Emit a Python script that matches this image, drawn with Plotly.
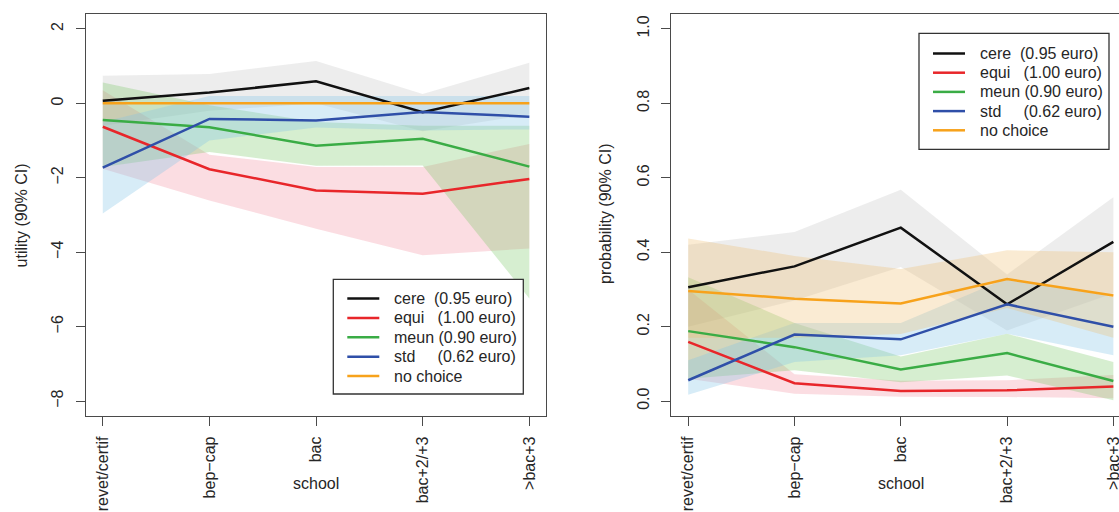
import plotly.graph_objects as go

# ---------------- data ----------------
categories = ["brevet/certif", "bep\u2212cap", "bac", "bac+2/+3", ">bac+3"]
series_names = ["cere", "equi", "meun", "std", "no choice"]
legend_labels = ["cere  (0.95 euro)", "equi   (1.00 euro)", "meun (0.90 euro)",
                 "std     (0.62 euro)", "no choice"]

# left panel: utility (90% CI)
util_cere = [0.07, 0.29, 0.59, -0.24, 0.41]
util_cere_lo = [-0.60, -0.20, 0.00, -0.75, -0.30]
util_cere_hi = [0.74, 0.79, 1.14, 0.25, 1.09]
util_equi = [-0.63, -1.77, -2.34, -2.43, -2.03]
util_equi_lo = [-1.76, -2.61, -3.37, -4.08, -3.90]
util_equi_hi = [0.35, -1.38, -1.71, -1.71, -1.09]
util_meun = [-0.45, -0.64, -1.14, -0.95, -1.70]
util_meun_lo = [-1.71, -1.31, -1.68, -1.67, -5.24]
util_meun_hi = [0.56, -0.05, -0.50, -0.60, -0.60]
util_std = [-1.73, -0.42, -0.46, -0.23, -0.36]
util_std_lo = [-2.96, -1.00, -0.65, -0.73, -0.70]
util_std_hi = [-0.50, 0.20, 0.20, 0.20, 0.20]
util_none = [0.0, 0.0, 0.0, 0.0, 0.0]

# right panel: probability (90% CI)
prob_cere = [0.306, 0.362, 0.466, 0.260, 0.428]
prob_cere_lo = [0.20, 0.27, 0.36, 0.19, 0.29]
prob_cere_hi = [0.42, 0.454, 0.568, 0.34, 0.548]
prob_equi = [0.159, 0.048, 0.027, 0.029, 0.039]
prob_equi_lo = [0.06, 0.020, 0.012, 0.011, 0.008]
prob_equi_hi = [0.30, 0.072, 0.055, 0.056, 0.070]
prob_meun = [0.188, 0.145, 0.085, 0.129, 0.054]
prob_meun_lo = [0.06, 0.083, 0.051, 0.069, 0.002]
prob_meun_hi = [0.333, 0.21, 0.12, 0.181, 0.105]
prob_std = [0.056, 0.179, 0.166, 0.260, 0.200]
prob_std_lo = [0.017, 0.105, 0.123, 0.181, 0.123]
prob_std_hi = [0.11, 0.21, 0.21, 0.33, 0.28]
prob_none = [0.296, 0.275, 0.262, 0.328, 0.284]
prob_none_lo = [0.17, 0.17, 0.18, 0.25, 0.17]
prob_none_hi = [0.437, 0.39, 0.355, 0.405, 0.40]

left_yticks = [-8, -6, -4, -2, 0, 2]
right_yticks = [0.0, 0.2, 0.4, 0.6, 0.8, 1.0]

# ---------------- styles ----------------
W, H = 1119, 512
FONT = "Liberation Sans, Arial, sans-serif"
TXT = "#262626"
AX = "#4a4a4a"
line_colors = ["#111111", "#e8262a", "#3aac45", "#2f4fa8", "#f7a21b"]
band_colors = ["rgba(185,185,185,0.25)", "rgba(240,120,140,0.25)",
               "rgba(120,200,100,0.30)", "rgba(130,195,230,0.32)",
               "rgba(240,190,110,0.30)"]

xpos = list(range(1, len(categories) + 1))

fig = go.Figure()


def add_band(lo, hi, color, xa, ya):
    fig.add_trace(go.Scatter(x=xpos + xpos[::-1], y=hi + lo[::-1], fill="toself",
                             fillcolor=color, mode="lines", line=dict(width=0),
                             hoverinfo="skip", showlegend=False, xaxis=xa, yaxis=ya))


def add_line(vals, color, name, xa, ya):
    fig.add_trace(go.Scatter(x=xpos, y=vals, mode="lines", name=name,
                             line=dict(color=color, width=2.5),
                             showlegend=False, xaxis=xa, yaxis=ya))


left_bands = [(util_cere_lo, util_cere_hi), (util_equi_lo, util_equi_hi),
              (util_meun_lo, util_meun_hi), (util_std_lo, util_std_hi)]
left_lines = [util_cere, util_equi, util_meun, util_std, util_none]
right_bands = [(prob_cere_lo, prob_cere_hi), (prob_equi_lo, prob_equi_hi),
               (prob_meun_lo, prob_meun_hi), (prob_std_lo, prob_std_hi),
               (prob_none_lo, prob_none_hi)]
right_lines = [prob_cere, prob_equi, prob_meun, prob_std, prob_none]

for i, (lo, hi) in enumerate(left_bands):
    add_band(lo, hi, band_colors[i], "x", "y")
for i, (lo, hi) in enumerate(right_bands):
    add_band(lo, hi, band_colors[i], "x2", "y2")
for i, v in enumerate(left_lines):
    add_line(v, line_colors[i], series_names[i], "x", "y")
for i, v in enumerate(right_lines):
    add_line(v, line_colors[i], series_names[i], "x2", "y2")

# ---------------- axes ----------------
ydom = [1 - 416 / H, 1 - 14 / H]
common_x = dict(tickmode="array", tickvals=xpos, ticktext=categories, tickangle=-90,
                ticks="outside", ticklen=9, tickwidth=1.3, tickcolor=AX,
                showline=True, linecolor=AX, linewidth=1.3, showgrid=False,
                zeroline=False, tickfont=dict(family=FONT, size=16, color=TXT),
                ticklabelstandoff=4, ticklabeloverflow="allow", automargin=False)
common_y = dict(tickmode="array", ticks="outside", ticklen=9, tickwidth=1.3,
                tickcolor=AX, showline=True, linecolor=AX, linewidth=1.3,
                showgrid=False, zeroline=False, tickangle=-90,
                tickfont=dict(family=FONT, size=16, color=TXT), ticklabelstandoff=6,
                automargin=False)

fig.update_layout(
    xaxis=dict(domain=[85.7 / W, 546.4 / W], range=[0.84, 5.16], mirror=True,
               anchor="y", **common_x),
    yaxis=dict(domain=ydom, range=[-8.4, 2.4], tickvals=left_yticks,
               ticktext=[str(v).replace("-", "\u2212") for v in left_yticks],
               mirror=True, anchor="x", **common_y),
    xaxis2=dict(domain=[671.2 / W, 1.0], range=[0.84, 5.053], mirror=True,
                anchor="y2", **common_x),
    yaxis2=dict(domain=ydom, range=[-0.04, 1.04], tickvals=right_yticks,
                ticktext=[f"{v:.1f}" for v in right_yticks],
                mirror=False, anchor="x2", **common_y),
    width=W, height=H, margin=dict(l=0, r=0, t=0, b=0),
    paper_bgcolor="white", plot_bgcolor="white", showlegend=False,
)

# axis titles
ann_font = dict(family=FONT, size=16, color=TXT)
fig.add_annotation(text="utility (90% CI)", xref="paper", yref="paper",
                   x=21.4 / W, y=1 - 215 / H, textangle=-90, showarrow=False,
                   xanchor="center", yanchor="middle", font=ann_font)
fig.add_annotation(text="probability (90% CI)", xref="paper", yref="paper",
                   x=605 / W, y=1 - 214 / H, textangle=-90, showarrow=False,
                   xanchor="center", yanchor="middle", font=ann_font)
for xa in ["x", "x2"]:
    fig.add_annotation(text="school", xref=xa, yref="paper", x=3, y=1 - 483 / H,
                       showarrow=False, xanchor="center", yanchor="middle",
                       font=ann_font)


# ---------------- legends (drawn boxes) ----------------
def draw_legend(left, top, right, bottom, row0, step):
    fig.add_shape(type="rect", xref="paper", yref="paper", x0=left / W, x1=right / W,
                  y0=1 - top / H, y1=1 - bottom / H, fillcolor="white",
                  line=dict(color="#333333", width=1.3), layer="above")
    for i, lab in enumerate(legend_labels):
        yy = 1 - (row0 + i * step) / H
        fig.add_shape(type="line", xref="paper", yref="paper",
                      x0=(left + 14) / W, x1=(left + 46) / W, y0=yy, y1=yy,
                      line=dict(color=line_colors[i], width=2.5), layer="above")
        fig.add_annotation(text=lab.replace(" ", "\u00a0"), xref="paper", yref="paper",
                           x=(left + 59) / W, y=yy, xanchor="left", yanchor="middle",
                           showarrow=False, font=ann_font)


draw_legend(333.3, 279.3, 523.3, 394.0, 298.5, 19.4)
draw_legend(919.0, 33.3, 1109.0, 149.3, 53.5, 19.2)

fig.write_html("out.html", config={"displayModeBar": False},
               post_script="document.body.style.margin='0';document.body.style.overflow='hidden';")
